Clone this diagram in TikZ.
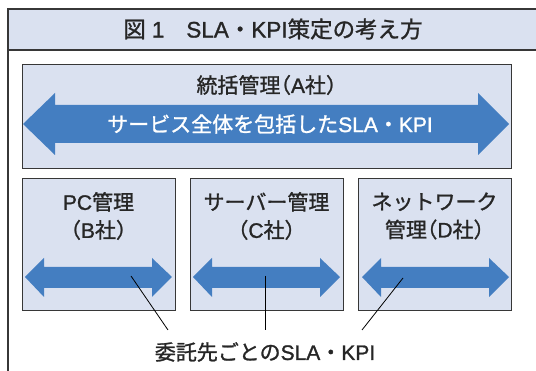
\documentclass[tikz,border=0pt]{standalone}
\usepackage{fontspec}
\setmainfont{Liberation Sans}[FakeBold=1.2]
\newfontfamily\J{Noto Sans CJK JP}[FakeBold=1.2]
\newfontfamily\Jh{Noto Sans CJK JP}[RawFeature=+halt,FakeBold=1.2]
\newcommand\jp[1]{{\J #1}}
\newcommand\jph[1]{{\Jh #1}}
\definecolor{boxfill}{RGB}{218,225,240}
\definecolor{arrblue}{RGB}{68,126,193}
\definecolor{edge}{RGB}{55,55,55}
\tikzset{
  frame/.style={draw=edge, line width=1.3pt},
  panel/.style={draw=edge, fill=boxfill, line width=0.9pt, inner sep=0pt},
  lab/.style={inner sep=0pt, align=center, font=\fontsize{21}{28}\selectfont, text=black!85},
  arr/.style={fill=arrblue},
  leader/.style={draw=black, line width=0.8pt}
}
\begin{document}
\begin{tikzpicture}[x=1pt,y=-1pt]
\useasboundingbox (0,0) rectangle (536,371);
% frame and title band
\fill[boxfill] (8,9) rectangle (536,50);
\draw[frame] (536,9) -- (8,9) -- (8,371);
\draw[frame] (8,50) -- (536,50);
\node[lab, font=\fontsize{22.5}{26}\selectfont] (title) at (273,29) {\jp{図}\hspace{6pt}1\hspace{22pt}SLA\jp{・}KPI\jp{策定の考え方}};
% panels
\node[panel, minimum width=489pt, minimum height=104pt] (A) at (266.5,116) {};
\node[panel, minimum width=153pt, minimum height=132pt] (B) at (98.5,244) {};
\node[panel, minimum width=153pt, minimum height=132pt] (C) at (266.5,244) {};
\node[panel, minimum width=153pt, minimum height=132pt] (D) at (434.5,244) {};
% big arrow
\fill[arr] (23,124) -- (55,93) -- (55,105) -- (478,105) -- (478,93) -- (509,124) -- (478,155) -- (478,143) -- (55,143) -- (55,155) -- cycle;
% small arrows
\fill[arr] (25,277) -- (44,258) -- (44,267) -- (152,267) -- (152,258) -- (172,277) -- (152,297) -- (152,288) -- (44,288) -- (44,297) -- cycle;
\fill[arr] (193,277) -- (212,258) -- (212,267) -- (320,267) -- (320,258) -- (340,277) -- (320,297) -- (320,288) -- (212,288) -- (212,297) -- cycle;
\fill[arr] (362,277) -- (381,258) -- (381,267) -- (489,267) -- (489,258) -- (509,277) -- (489,297) -- (489,288) -- (381,288) -- (381,297) -- cycle;
% labels
\node[lab] (Alab) at (266.5,85) {\jp{統括管理}\jph{（}A\jp{社}\jph{）}};
\node[lab, text=white] (Atext) at (270,124) {\jp{サービス全体を包括した}SLA\jp{・}KPI};
\node[lab] (Blab) at (98.5,216) {PC\jp{管理}\\\jph{（}B\jp{社}\jph{）}};
\node[lab] (Clab) at (266.5,216) {\jp{サーバー管理}\\\jph{（}C\jp{社}\jph{）}};
\node[lab] (Dlab) at (434.5,216) {\jp{ネットワーク}\\\jp{管理}\jph{（}D\jp{社}\jph{）}};
\node[lab] (bottom) at (265,352) {\jp{委託先ごとの}SLA\jp{・}KPI};
% leader lines
\coordinate (pB) at (131,276);
\coordinate (pC) at (265,276);
\coordinate (pD) at (403,278);
\coordinate (eB) at (168,330);
\coordinate (eC) at (265,330);
\coordinate (eD) at (362,330);
\draw[leader] (pB) -- (eB);
\draw[leader] (pC) -- (eC);
\draw[leader] (pD) -- (eD);
\end{tikzpicture}
\end{document}
